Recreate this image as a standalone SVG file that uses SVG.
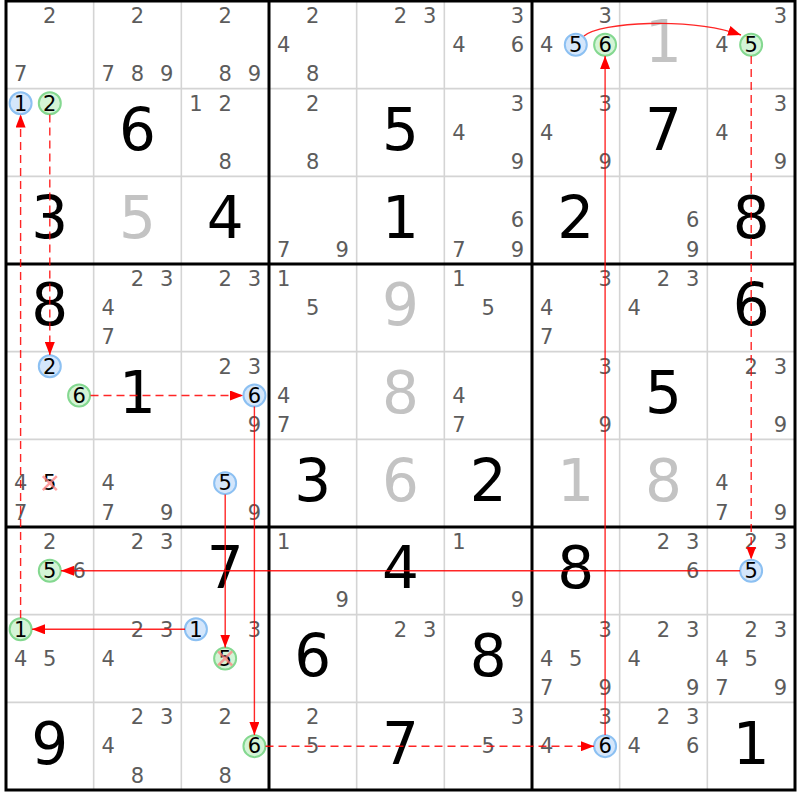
<svg xmlns="http://www.w3.org/2000/svg" width="800" height="800" viewBox="0 0 800 800">
<style>
text{font-family:"DejaVu Sans","Liberation Sans",sans-serif;text-anchor:middle}
.c{font-size:21px;fill:#5c5c5c}
.k{font-size:21px;fill:#000}
.g{font-size:58px;fill:#000}
.s{font-size:58px;fill:#c3c3c3}
.hb{fill:#d4e6fb;stroke:#8cc0f2;stroke-width:2}
.hg{fill:#d4f4d6;stroke:#84d890;stroke-width:2}
.x{stroke:#ff7f7f;stroke-width:2.5;stroke-opacity:0.75}
.thin{stroke:#d4d4d4;stroke-width:1.6}
.thick{stroke:#000;stroke-width:3}
.ln{fill:none;stroke:#ff0000;stroke-width:1.4;stroke-opacity:0.85}
.d{stroke-dasharray:8 5}
</style>
<defs>
<marker id="ah" markerUnits="userSpaceOnUse" markerWidth="14" markerHeight="10" refX="13" refY="5" orient="auto">
<path d="M0,0 L13,5 L0,10 Z" fill="#ff0000"/>
</marker>
</defs>
<rect width="800" height="800" fill="#fff"/>
<g id="grid">
<g class="thin">
<line x1="93.67" y1="1" x2="93.67" y2="790"/><line x1="181.33" y1="1" x2="181.33" y2="790"/>
<line x1="356.67" y1="1" x2="356.67" y2="790"/><line x1="444.33" y1="1" x2="444.33" y2="790"/>
<line x1="619.67" y1="1" x2="619.67" y2="790"/><line x1="707.33" y1="1" x2="707.33" y2="790"/>
<line x1="6" y1="88.67" x2="795" y2="88.67"/><line x1="6" y1="176.33" x2="795" y2="176.33"/>
<line x1="6" y1="351.67" x2="795" y2="351.67"/><line x1="6" y1="439.33" x2="795" y2="439.33"/>
<line x1="6" y1="614.67" x2="795" y2="614.67"/><line x1="6" y1="702.33" x2="795" y2="702.33"/>
</g>
<g class="thick">
<line x1="269" y1="1" x2="269" y2="790"/><line x1="532" y1="1" x2="532" y2="790"/>
<line x1="6" y1="264" x2="795" y2="264"/><line x1="6" y1="527" x2="795" y2="527"/>
<rect x="6" y="1" width="789" height="789" fill="none"/>
</g>
</g>

<!-- Row 0 -->
<g id="r0c0" transform="translate(6,1)"><text class="c" x="43.8" y="21.9">2</text><text class="c" x="14.6" y="80.4">7</text></g>
<g id="r0c1" transform="translate(93.67,1)"><text class="c" x="43.8" y="21.9">2</text><text class="c" x="14.6" y="80.4">7</text><text class="c" x="43.8" y="80.4">8</text><text class="c" x="73.1" y="80.4">9</text></g>
<g id="r0c2" transform="translate(181.33,1)"><text class="c" x="43.8" y="21.9">2</text><text class="c" x="43.8" y="80.4">8</text><text class="c" x="73.1" y="80.4">9</text></g>
<g id="r0c3" transform="translate(269,1)"><text class="c" x="43.8" y="21.9">2</text><text class="c" x="14.6" y="51.1">4</text><text class="c" x="43.8" y="80.4">8</text></g>
<g id="r0c4" transform="translate(356.67,1)"><text class="c" x="43.8" y="21.9">2</text><text class="c" x="73.1" y="21.9">3</text></g>
<g id="r0c5" transform="translate(444.33,1)"><text class="c" x="73.1" y="21.9">3</text><text class="c" x="14.6" y="51.1">4</text><text class="c" x="73.1" y="51.1">6</text></g>
<g id="r0c6" transform="translate(532,1)"><text class="c" x="73.1" y="21.9">3</text><text class="c" x="14.6" y="51.1">4</text><circle class="hb" cx="43.8" cy="43.8" r="11"/><text class="k" x="43.8" y="51.1">5</text><circle class="hg" cx="73.1" cy="43.8" r="11"/><text class="k" x="73.1" y="51.1">6</text></g>
<g id="r0c7" transform="translate(619.67,1)"><text class="s" x="43.8" y="61.3">1</text></g>
<g id="r0c8" transform="translate(707.33,1)"><text class="c" x="73.1" y="21.9">3</text><text class="c" x="14.6" y="51.1">4</text><circle class="hg" cx="43.8" cy="43.8" r="11"/><text class="k" x="43.8" y="51.1">5</text></g>

<!-- Row 1 -->
<g id="r1c0" transform="translate(6,88.67)"><circle class="hb" cx="14.6" cy="14.6" r="11"/><text class="k" x="14.6" y="21.9">1</text><circle class="hg" cx="43.8" cy="14.6" r="11"/><text class="k" x="43.8" y="21.9">2</text></g>
<g id="r1c1" transform="translate(93.67,88.67)"><text class="g" x="43.8" y="61.3">6</text></g>
<g id="r1c2" transform="translate(181.33,88.67)"><text class="c" x="14.6" y="21.9">1</text><text class="c" x="43.8" y="21.9">2</text><text class="c" x="43.8" y="80.4">8</text></g>
<g id="r1c3" transform="translate(269,88.67)"><text class="c" x="43.8" y="21.9">2</text><text class="c" x="43.8" y="80.4">8</text></g>
<g id="r1c4" transform="translate(356.67,88.67)"><text class="g" x="43.8" y="61.3">5</text></g>
<g id="r1c5" transform="translate(444.33,88.67)"><text class="c" x="73.1" y="21.9">3</text><text class="c" x="14.6" y="51.1">4</text><text class="c" x="73.1" y="80.4">9</text></g>
<g id="r1c6" transform="translate(532,88.67)"><text class="c" x="73.1" y="21.9">3</text><text class="c" x="14.6" y="51.1">4</text><text class="c" x="73.1" y="80.4">9</text></g>
<g id="r1c7" transform="translate(619.67,88.67)"><text class="g" x="43.8" y="61.3">7</text></g>
<g id="r1c8" transform="translate(707.33,88.67)"><text class="c" x="73.1" y="21.9">3</text><text class="c" x="14.6" y="51.1">4</text><text class="c" x="73.1" y="80.4">9</text></g>

<!-- Row 2 -->
<g id="r2c0" transform="translate(6,176.33)"><text class="g" x="43.8" y="61.3">3</text></g>
<g id="r2c1" transform="translate(93.67,176.33)"><text class="s" x="43.8" y="61.3">5</text></g>
<g id="r2c2" transform="translate(181.33,176.33)"><text class="g" x="43.8" y="61.3">4</text></g>
<g id="r2c3" transform="translate(269,176.33)"><text class="c" x="14.6" y="80.4">7</text><text class="c" x="73.1" y="80.4">9</text></g>
<g id="r2c4" transform="translate(356.67,176.33)"><text class="g" x="43.8" y="61.3">1</text></g>
<g id="r2c5" transform="translate(444.33,176.33)"><text class="c" x="73.1" y="51.1">6</text><text class="c" x="14.6" y="80.4">7</text><text class="c" x="73.1" y="80.4">9</text></g>
<g id="r2c6" transform="translate(532,176.33)"><text class="g" x="43.8" y="61.3">2</text></g>
<g id="r2c7" transform="translate(619.67,176.33)"><text class="c" x="73.1" y="51.1">6</text><text class="c" x="73.1" y="80.4">9</text></g>
<g id="r2c8" transform="translate(707.33,176.33)"><text class="g" x="43.8" y="61.3">8</text></g>

<!-- Row 3 -->
<g id="r3c0" transform="translate(6,264)"><text class="g" x="43.8" y="61.3">8</text></g>
<g id="r3c1" transform="translate(93.67,264)"><text class="c" x="43.8" y="21.9">2</text><text class="c" x="73.1" y="21.9">3</text><text class="c" x="14.6" y="51.1">4</text><text class="c" x="14.6" y="80.4">7</text></g>
<g id="r3c2" transform="translate(181.33,264)"><text class="c" x="43.8" y="21.9">2</text><text class="c" x="73.1" y="21.9">3</text></g>
<g id="r3c3" transform="translate(269,264)"><text class="c" x="14.6" y="21.9">1</text><text class="c" x="43.8" y="51.1">5</text></g>
<g id="r3c4" transform="translate(356.67,264)"><text class="s" x="43.8" y="61.3">9</text></g>
<g id="r3c5" transform="translate(444.33,264)"><text class="c" x="14.6" y="21.9">1</text><text class="c" x="43.8" y="51.1">5</text></g>
<g id="r3c6" transform="translate(532,264)"><text class="c" x="73.1" y="21.9">3</text><text class="c" x="14.6" y="51.1">4</text><text class="c" x="14.6" y="80.4">7</text></g>
<g id="r3c7" transform="translate(619.67,264)"><text class="c" x="43.8" y="21.9">2</text><text class="c" x="73.1" y="21.9">3</text><text class="c" x="14.6" y="51.1">4</text></g>
<g id="r3c8" transform="translate(707.33,264)"><text class="g" x="43.8" y="61.3">6</text></g>

<!-- Row 4 -->
<g id="r4c0" transform="translate(6,351.67)"><circle class="hb" cx="43.8" cy="14.6" r="11"/><text class="k" x="43.8" y="21.9">2</text><circle class="hg" cx="73.1" cy="43.8" r="11"/><text class="k" x="73.1" y="51.1">6</text></g>
<g id="r4c1" transform="translate(93.67,351.67)"><text class="g" x="43.8" y="61.3">1</text></g>
<g id="r4c2" transform="translate(181.33,351.67)"><text class="c" x="43.8" y="21.9">2</text><text class="c" x="73.1" y="21.9">3</text><circle class="hb" cx="73.1" cy="43.8" r="11"/><text class="k" x="73.1" y="51.1">6</text><text class="c" x="73.1" y="80.4">9</text></g>
<g id="r4c3" transform="translate(269,351.67)"><text class="c" x="14.6" y="51.1">4</text><text class="c" x="14.6" y="80.4">7</text></g>
<g id="r4c4" transform="translate(356.67,351.67)"><text class="s" x="43.8" y="61.3">8</text></g>
<g id="r4c5" transform="translate(444.33,351.67)"><text class="c" x="14.6" y="51.1">4</text><text class="c" x="14.6" y="80.4">7</text></g>
<g id="r4c6" transform="translate(532,351.67)"><text class="c" x="73.1" y="21.9">3</text><text class="c" x="73.1" y="80.4">9</text></g>
<g id="r4c7" transform="translate(619.67,351.67)"><text class="g" x="43.8" y="61.3">5</text></g>
<g id="r4c8" transform="translate(707.33,351.67)"><text class="c" x="43.8" y="21.9">2</text><text class="c" x="73.1" y="21.9">3</text><text class="c" x="73.1" y="80.4">9</text></g>

<!-- Row 5 -->
<g id="r5c0" transform="translate(6,439.33)"><text class="c" x="14.6" y="51.1">4</text><text class="k" x="43.8" y="51.1">5</text><path class="x" d="M36.8,36.8 L50.8,50.8 M36.8,50.8 L50.8,36.8"/><text class="c" x="14.6" y="80.4">7</text></g>
<g id="r5c1" transform="translate(93.67,439.33)"><text class="c" x="14.6" y="51.1">4</text><text class="c" x="14.6" y="80.4">7</text><text class="c" x="73.1" y="80.4">9</text></g>
<g id="r5c2" transform="translate(181.33,439.33)"><circle class="hb" cx="43.8" cy="43.8" r="11"/><text class="k" x="43.8" y="51.1">5</text><text class="c" x="73.1" y="80.4">9</text></g>
<g id="r5c3" transform="translate(269,439.33)"><text class="g" x="43.8" y="61.3">3</text></g>
<g id="r5c4" transform="translate(356.67,439.33)"><text class="s" x="43.8" y="61.3">6</text></g>
<g id="r5c5" transform="translate(444.33,439.33)"><text class="g" x="43.8" y="61.3">2</text></g>
<g id="r5c6" transform="translate(532,439.33)"><text class="s" x="43.8" y="61.3">1</text></g>
<g id="r5c7" transform="translate(619.67,439.33)"><text class="s" x="43.8" y="61.3">8</text></g>
<g id="r5c8" transform="translate(707.33,439.33)"><text class="c" x="14.6" y="51.1">4</text><text class="c" x="14.6" y="80.4">7</text><text class="c" x="73.1" y="80.4">9</text></g>

<!-- Row 6 -->
<g id="r6c0" transform="translate(6,527)"><text class="c" x="43.8" y="21.9">2</text><circle class="hg" cx="43.8" cy="43.8" r="11"/><text class="k" x="43.8" y="51.1">5</text><text class="c" x="73.1" y="51.1">6</text></g>
<g id="r6c1" transform="translate(93.67,527)"><text class="c" x="43.8" y="21.9">2</text><text class="c" x="73.1" y="21.9">3</text></g>
<g id="r6c2" transform="translate(181.33,527)"><text class="g" x="43.8" y="61.3">7</text></g>
<g id="r6c3" transform="translate(269,527)"><text class="c" x="14.6" y="21.9">1</text><text class="c" x="73.1" y="80.4">9</text></g>
<g id="r6c4" transform="translate(356.67,527)"><text class="g" x="43.8" y="61.3">4</text></g>
<g id="r6c5" transform="translate(444.33,527)"><text class="c" x="14.6" y="21.9">1</text><text class="c" x="73.1" y="80.4">9</text></g>
<g id="r6c6" transform="translate(532,527)"><text class="g" x="43.8" y="61.3">8</text></g>
<g id="r6c7" transform="translate(619.67,527)"><text class="c" x="43.8" y="21.9">2</text><text class="c" x="73.1" y="21.9">3</text><text class="c" x="73.1" y="51.1">6</text></g>
<g id="r6c8" transform="translate(707.33,527)"><text class="c" x="43.8" y="21.9">2</text><text class="c" x="73.1" y="21.9">3</text><circle class="hb" cx="43.8" cy="43.8" r="11"/><text class="k" x="43.8" y="51.1">5</text></g>

<!-- Row 7 -->
<g id="r7c0" transform="translate(6,614.67)"><circle class="hg" cx="14.6" cy="14.6" r="11"/><text class="k" x="14.6" y="21.9">1</text><text class="c" x="14.6" y="51.1">4</text><text class="c" x="43.8" y="51.1">5</text></g>
<g id="r7c1" transform="translate(93.67,614.67)"><text class="c" x="43.8" y="21.9">2</text><text class="c" x="73.1" y="21.9">3</text><text class="c" x="14.6" y="51.1">4</text></g>
<g id="r7c2" transform="translate(181.33,614.67)"><circle class="hb" cx="14.6" cy="14.6" r="11"/><text class="k" x="14.6" y="21.9">1</text><text class="c" x="73.1" y="21.9">3</text><circle class="hg" cx="43.8" cy="43.8" r="11"/><text class="k" x="43.8" y="51.1">5</text><path class="x" d="M36.8,36.8 L50.8,50.8 M36.8,50.8 L50.8,36.8"/></g>
<g id="r7c3" transform="translate(269,614.67)"><text class="g" x="43.8" y="61.3">6</text></g>
<g id="r7c4" transform="translate(356.67,614.67)"><text class="c" x="43.8" y="21.9">2</text><text class="c" x="73.1" y="21.9">3</text></g>
<g id="r7c5" transform="translate(444.33,614.67)"><text class="g" x="43.8" y="61.3">8</text></g>
<g id="r7c6" transform="translate(532,614.67)"><text class="c" x="73.1" y="21.9">3</text><text class="c" x="14.6" y="51.1">4</text><text class="c" x="43.8" y="51.1">5</text><text class="c" x="14.6" y="80.4">7</text><text class="c" x="73.1" y="80.4">9</text></g>
<g id="r7c7" transform="translate(619.67,614.67)"><text class="c" x="43.8" y="21.9">2</text><text class="c" x="73.1" y="21.9">3</text><text class="c" x="14.6" y="51.1">4</text><text class="c" x="73.1" y="80.4">9</text></g>
<g id="r7c8" transform="translate(707.33,614.67)"><text class="c" x="43.8" y="21.9">2</text><text class="c" x="73.1" y="21.9">3</text><text class="c" x="14.6" y="51.1">4</text><text class="c" x="43.8" y="51.1">5</text><text class="c" x="14.6" y="80.4">7</text><text class="c" x="73.1" y="80.4">9</text></g>

<!-- Row 8 -->
<g id="r8c0" transform="translate(6,702.33)"><text class="g" x="43.8" y="61.3">9</text></g>
<g id="r8c1" transform="translate(93.67,702.33)"><text class="c" x="43.8" y="21.9">2</text><text class="c" x="73.1" y="21.9">3</text><text class="c" x="14.6" y="51.1">4</text><text class="c" x="43.8" y="80.4">8</text></g>
<g id="r8c2" transform="translate(181.33,702.33)"><text class="c" x="43.8" y="21.9">2</text><circle class="hg" cx="73.1" cy="43.8" r="11"/><text class="k" x="73.1" y="51.1">6</text><text class="c" x="43.8" y="80.4">8</text></g>
<g id="r8c3" transform="translate(269,702.33)"><text class="c" x="43.8" y="21.9">2</text><text class="c" x="43.8" y="51.1">5</text></g>
<g id="r8c4" transform="translate(356.67,702.33)"><text class="g" x="43.8" y="61.3">7</text></g>
<g id="r8c5" transform="translate(444.33,702.33)"><text class="c" x="73.1" y="21.9">3</text><text class="c" x="43.8" y="51.1">5</text></g>
<g id="r8c6" transform="translate(532,702.33)"><text class="c" x="73.1" y="21.9">3</text><text class="c" x="14.6" y="51.1">4</text><circle class="hb" cx="73.1" cy="43.8" r="11"/><text class="k" x="73.1" y="51.1">6</text></g>
<g id="r8c7" transform="translate(619.67,702.33)"><text class="c" x="43.8" y="21.9">2</text><text class="c" x="73.1" y="21.9">3</text><text class="c" x="14.6" y="51.1">4</text><text class="c" x="73.1" y="51.1">6</text></g>
<g id="r8c8" transform="translate(707.33,702.33)"><text class="g" x="43.8" y="61.3">1</text></g>

<g id="connectors">
<path class="ln" d="M584,36 C600,22 690,17 741,35" marker-end="url(#ah)"/>
<line class="ln d" x1="751.2" y1="56" x2="751.2" y2="559.5" marker-end="url(#ah)"/>
<line class="ln" x1="740" y1="570.8" x2="61" y2="570.8" marker-end="url(#ah)"/>
<line class="ln d" x1="20.6" y1="618" x2="20.6" y2="114.5" marker-end="url(#ah)"/>
<line class="ln" x1="185" y1="629.3" x2="32" y2="629.3" marker-end="url(#ah)"/>
<line class="ln d" x1="49.8" y1="114.5" x2="49.8" y2="355" marker-end="url(#ah)"/>
<line class="ln d" x1="90.5" y1="395.5" x2="243" y2="395.5" marker-end="url(#ah)"/>
<line class="ln" x1="254.4" y1="406.5" x2="254.4" y2="735" marker-end="url(#ah)"/>
<line class="ln d" x1="265.5" y1="746.2" x2="594" y2="746.2" marker-end="url(#ah)"/>
<line class="ln" x1="605.1" y1="735" x2="605.1" y2="56" marker-end="url(#ah)"/>
<line class="ln" x1="225.2" y1="494.5" x2="225.2" y2="647.5" marker-end="url(#ah)"/>
</g>
</svg>
